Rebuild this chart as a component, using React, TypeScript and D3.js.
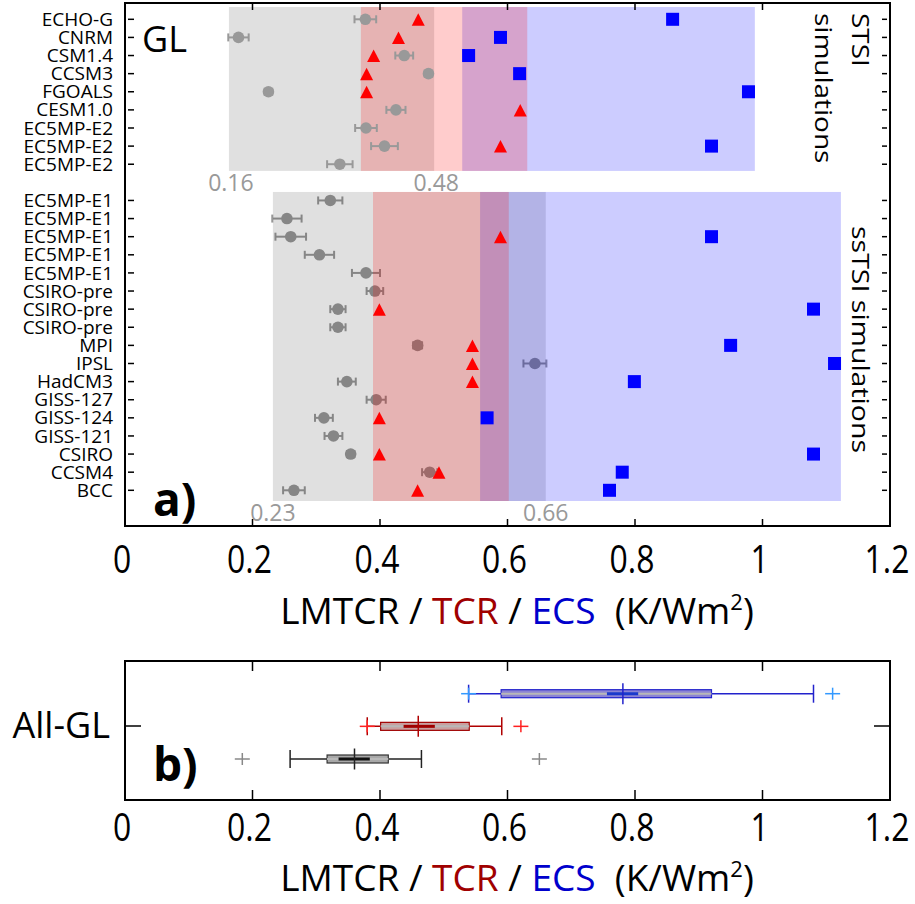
import React from "react";
import * as d3 from "d3";

// ---------- data ----------
const stsiModels = ["ECHO-G", "CNRM", "CSM1.4", "CCSM3", "FGOALS", "CESM1.0", "EC5MP-E2", "EC5MP-E2", "EC5MP-E2"];
const stsiLMTCR = [0.377, 0.178, 0.438, 0.476, 0.225, 0.425, 0.378, 0.407, 0.337];
const stsiLMTCRErr = [0.017, 0.016, 0.014, 0.006, 0.006, 0.015, 0.017, 0.021, 0.02];
const stsiTCR: (number | null)[] = [0.46, 0.429, 0.39, 0.379, 0.379, 0.62, null, 0.589, null];
const stsiECS: (number | null)[] = [0.859, 0.589, 0.539, 0.619, 0.978, null, null, 0.92, null];

const ssModels = ["EC5MP-E1", "EC5MP-E1", "EC5MP-E1", "EC5MP-E1", "EC5MP-E1", "CSIRO-pre", "CSIRO-pre", "CSIRO-pre", "MPI", "IPSL", "HadCM3", "GISS-127", "GISS-124", "GISS-121", "CSIRO", "CCSM4", "BCC"];
const ssLMTCR = [0.322, 0.254, 0.26, 0.305, 0.378, 0.392, 0.334, 0.334, 0.459, 0.643, 0.348, 0.394, 0.312, 0.327, 0.354, 0.478, 0.265];
const ssLMTCRErr = [0.019, 0.023, 0.024, 0.023, 0.022, 0.013, 0.012, 0.012, 0.007, 0.018, 0.014, 0.015, 0.014, 0.014, 0.006, 0.012, 0.017];
const ssTCR: (number | null)[] = [null, null, 0.589, null, null, null, 0.399, null, 0.545, 0.545, 0.545, null, 0.399, null, 0.399, 0.4925, 0.459];
const ssECS: (number | null)[] = [null, null, 0.92, null, null, null, 1.08, null, 0.95, 1.113, 0.799, null, 0.568, null, 1.08, 0.78, 0.76];

// shaded ranges [LMTCR, TCR, ECS]
const stsiBandLo = [0.163, 0.37, 0.529];
const stsiBandHi = [0.485, 0.631, 0.988];
const ssBandLo = [0.232, 0.389, 0.557];
const ssBandHi = [0.66, 0.602, 1.123];
const stsiBandLabels = ["0.16", "0.48"];
const ssBandLabels = ["0.23", "0.66"];

const xTicks = [0, 0.2, 0.4, 0.6, 0.8, 1, 1.2];
const xTickLabels = ["0", "0.2", "0.4", "0.6", "0.8", "1", "1.2"];

// box plot (All-GL): LMTCR, TCR, ECS
const boxNames = ["LMTCR", "TCR", "ECS"];
const boxQ1 = [0.317, 0.401, 0.59];
const boxMedian = [0.36, 0.46, 0.781];
const boxQ3 = [0.413, 0.54, 0.92];
const boxWhiskLo = [0.259, 0.38, 0.539];
const boxWhiskHi = [0.465, 0.591, 1.08];
const boxCiLo = [0.335, 0.437, 0.756];
const boxCiHi = [0.384, 0.486, 0.805];
const boxOutliers = [[0.184, 0.65], [0.38, 0.621], [0.539, 1.11]];

// ---------- styles ----------
const FONT = "'Open Sans', 'Noto Sans', sans-serif";
const bandColors = ["#000000", "#ff0000", "#0000ff"];
const bandOpacity = [0.12, 0.2, 0.2];
const boxStroke = ["#333333", "#a00000", "#2222cc"];
const boxFill = ["#a8a8a8", "#c8a0a0", "#8c84d4"];
const boxCi = ["#111111", "#a00000", "#1a3acc"];
const boxWhisk = ["#222222", "#b00000", "#2222cc"];
const boxPlus = ["#888888", "#ff2020", "#3399ff"];

export default function App() {
  const x = d3.scaleLinear().domain([0, 1.2]).range([125, 890]);
  const y = d3.scaleLinear().domain([0, 26]).range([19.3, 490.3]);
  const yb = d3.scaleLinear().domain([0, 2]).range([759, 693.7]);

  const aTop = 3, aBot = 526, bTop = 661, bBot = 800;
  const left = 125, right = 890;

  const stsiRows = stsiModels.map((m, i) => i);
  const ssRows = ssModels.map((m, i) => i + 10);

  const tri = (cx: number, cy: number) =>
    `M${cx},${cy - 6} L${cx + 6.5},${cy + 6.5} L${cx - 6.5},${cy + 6.5} Z`;

  const bands = (lo: number[], hi: number[], y0: number, y1: number, key: string) =>
    [0, 2, 1].map((k) => (
      <rect key={key + k} x={x(lo[k])} y={y0} width={x(hi[k]) - x(lo[k])} height={y1 - y0}
        fill={bandColors[k]} fillOpacity={bandOpacity[k]} />
    ));

  const grayMarkers = (vals: number[], errs: number[], rows: number[], key: string) =>
    vals.map((v, i) => {
      const cy = y(rows[i]);
      const x0 = x(v - errs[i]), x1 = x(v + errs[i]);
      return (
        <g key={key + i}>
          <line x1={x0} x2={x1} y1={cy} y2={cy} stroke="#999" strokeWidth={2} />
          <line x1={x0} x2={x0} y1={cy - 4} y2={cy + 4} stroke="#999" strokeWidth={2} />
          <line x1={x1} x2={x1} y1={cy - 4} y2={cy + 4} stroke="#999" strokeWidth={2} />
          <circle cx={x(v)} cy={cy} r={5.8} fill="#999" />
        </g>
      );
    });

  const colorMarkers = (tcr: (number | null)[], ecs: (number | null)[], rows: number[], key: string) => (
    <g key={key}>
      {tcr.map((v, i) => v == null ? null : <path key={"t" + i} d={tri(x(v), y(rows[i]))} fill="#ff0000" />)}
      {ecs.map((v, i) => v == null ? null : (
        <rect key={"e" + i} x={x(v) - 6.5} y={y(rows[i]) - 6.5} width={13} height={13} fill="#0000ff" />
      ))}
    </g>
  );

  const xTickMarks = (t: number, b: number, len: number, key: string) =>
    xTicks.slice(1, -1).map((v, i) => (
      <g key={key + i}>
        <line x1={x(v)} x2={x(v)} y1={t} y2={t + len} stroke="#000" strokeWidth={1.5} />
        <line x1={x(v)} x2={x(v)} y1={b} y2={b - len} stroke="#000" strokeWidth={1.5} />
      </g>
    ));

  const xLabels = (yy: number, key: string) =>
    xTicks.map((v, i) => (
      <g key={key + i} transform={`translate(${x(v) - 3},${yy}) scale(0.84,1)`}>
        <text x={0} y={0} textAnchor="middle" fontFamily={FONT} fontSize={38} fill="#000">
          {xTickLabels[i]}
        </text>
      </g>
    ));

  const xTitle = (yy: number) => (
    <text x={517} y={yy} textAnchor="middle" fontFamily={FONT} fontSize={37} fill="#000">
      <tspan>LMTCR / </tspan>
      <tspan fill="#a00000">TCR</tspan>
      <tspan> / </tspan>
      <tspan fill="#0000cc">ECS</tspan>
      <tspan>{"\u00a0\u00a0(K/Wm"}</tspan>
      <tspan fontSize={22} dy={-14}>2</tspan>
      <tspan dy={14}>)</tspan>
    </text>
  );

  const allRows = [...stsiRows, ...ssRows];
  const allModels = [...stsiModels, ...ssModels];

  return (
    <svg width={915} height={904} style={{ display: "block", position: "absolute", left: 0, top: 0 }}>
      <rect x={0} y={0} width={915} height={904} fill="#fff" />

      {/* ---------- panel a ---------- */}
      {bands(stsiBandLo, stsiBandHi, y(0) - 12.3, y(8) + 6.7, "sb")}
      {grayMarkers(stsiLMTCR, stsiLMTCRErr, stsiRows, "sg")}
      {colorMarkers(stsiTCR, stsiECS, stsiRows, "sc")}

      {grayMarkers(ssLMTCR, ssLMTCRErr, ssRows, "ssg")}
      {bands(ssBandLo, ssBandHi, y(10) - 8.5, y(26) + 10.7, "ssb")}
      {colorMarkers(ssTCR, ssECS, ssRows, "ssc")}

      {stsiBandLabels.map((t, i) => (
        <text key={"sl" + i} x={x(i === 0 ? stsiBandLo[0] : stsiBandHi[0]) + 2} y={191} textAnchor="middle"
          fontFamily={FONT} fontSize={23} fill="#999">{t}</text>
      ))}
      {ssBandLabels.map((t, i) => (
        <text key={"ssl" + i} x={x(i === 0 ? ssBandLo[0] : ssBandHi[0])} y={521} textAnchor="middle"
          fontFamily={FONT} fontSize={23} fill="#999">{t}</text>
      ))}

      <rect x={left} y={aTop} width={right - left} height={aBot - aTop} fill="none" stroke="#000" strokeWidth={2} />
      {xTickMarks(aTop, aBot, 7, "at")}
      {allRows.map((r, i) => (
        <g key={"yt" + i}>
          <line x1={128} x2={134} y1={y(r)} y2={y(r)} stroke="#000" strokeWidth={1.5} />
          <line x1={882} x2={887} y1={y(r)} y2={y(r)} stroke="#000" strokeWidth={1.5} />
          <text x={113} y={y(r) + 6.6} textAnchor="end" fontFamily={FONT} fontSize={19} fill="#000">
            {allModels[i]}
          </text>
        </g>
      ))}

      <text x={142} y={52} fontFamily={FONT} fontSize={36} fill="#000">GL</text>
      <text x={153} y={516} fontFamily={FONT} fontSize={46} fontWeight="bold" fill="#000">a)</text>

      <g transform="translate(852,13) scale(0.85,1) rotate(90)">
        <text x={0} y={0} fontFamily={FONT} fontSize={28} fill="#000">STSI</text>
      </g>
      <g transform="translate(815,13) scale(0.85,1) rotate(90)">
        <text x={0} y={0} fontFamily={FONT} fontSize={28} fill="#000">simulations</text>
      </g>
      <g transform="translate(852,226) scale(0.85,1) rotate(90)">
        <text x={0} y={0} fontFamily={FONT} fontSize={28.5} fill="#000">ssTSI simulations</text>
      </g>

      {xLabels(573, "axl")}
      {xTitle(624)}

      {/* ---------- panel b ---------- */}
      <rect x={left} y={bTop} width={right - left} height={bBot - bTop} fill="none" stroke="#000" strokeWidth={2} />
      {xTickMarks(bTop, bBot, 10, "bt")}
      <line x1={left} x2={left + 16} y1={726} y2={726} stroke="#000" strokeWidth={1.5} />
      <line x1={right - 16} x2={right} y1={726} y2={726} stroke="#000" strokeWidth={1.5} />

      {boxNames.map((n, k) => {
        const cy = yb(k);
        return (
          <g key={"box" + n}>
            <line x1={x(boxWhiskLo[k])} x2={x(boxWhiskHi[k])} y1={cy} y2={cy} stroke={boxWhisk[k]} strokeWidth={1.5} />
            <line x1={x(boxWhiskLo[k])} x2={x(boxWhiskLo[k])} y1={cy - 9} y2={cy + 9} stroke={boxWhisk[k]} strokeWidth={1.5} />
            <line x1={x(boxWhiskHi[k])} x2={x(boxWhiskHi[k])} y1={cy - 9} y2={cy + 9} stroke={boxWhisk[k]} strokeWidth={1.5} />
            <rect x={x(boxQ1[k])} y={cy - 4} width={x(boxQ3[k]) - x(boxQ1[k])} height={8}
              fill={boxFill[k]} stroke={boxStroke[k]} strokeWidth={1.2} />
            <line x1={x(boxQ1[k])} x2={x(boxQ3[k])} y1={cy} y2={cy} stroke="#b8b8b8" strokeWidth={2} />
            <line x1={x(boxCiLo[k])} x2={x(boxCiHi[k])} y1={cy} y2={cy} stroke={boxCi[k]} strokeWidth={3} />
            <line x1={x(boxMedian[k])} x2={x(boxMedian[k])} y1={cy - 10.5} y2={cy + 10.5} stroke={boxWhisk[k]} strokeWidth={1.5} />
            {boxOutliers[k].map((o, j) => (
              <g key={"o" + j}>
                <line x1={x(o) - 7.5} x2={x(o) + 7.5} y1={cy} y2={cy} stroke={boxPlus[k]} strokeWidth={1.5} />
                <line x1={x(o)} x2={x(o)} y1={cy - 6} y2={cy + 6} stroke={boxPlus[k]} strokeWidth={1.5} />
              </g>
            ))}
          </g>
        );
      })}

      <text x={110} y={738} textAnchor="end" fontFamily={FONT} fontSize={36} fill="#000">All-GL</text>
      <text x={153} y={781} fontFamily={FONT} fontSize={46} fontWeight="bold" fill="#000">b)</text>

      {xLabels(841, "bxl")}
      {xTitle(891)}
    </svg>
  );
}
